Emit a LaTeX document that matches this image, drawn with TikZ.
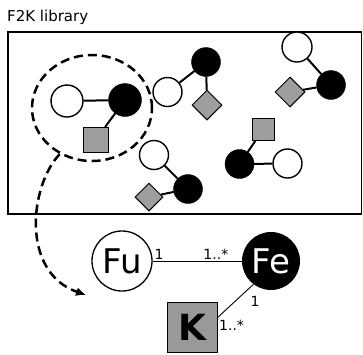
\documentclass[tikz,border=0pt]{standalone}
\usepackage{fontspec}
\setmainfont{DejaVu Sans}
\usetikzlibrary{shapes.geometric,arrows.meta}

\begin{document}
\begin{tikzpicture}[x=1pt,y=-1pt,
    wc/.style={circle,draw,line width=1.4pt,fill=white,minimum size=29pt,inner sep=0pt},
    bc/.style={circle,draw,fill=black,minimum size=29pt,inner sep=0pt},
    tile/.style={rectangle,draw,line width=1pt,fill=black!38,minimum size=22pt,inner sep=0pt},
    gem/.style={diamond,draw,line width=1pt,fill=black!38,minimum size=30pt,inner sep=0pt},
    bond/.style={line width=2pt},
    ring/.style={line width=2.5pt,dash pattern=on 9pt off 5pt},
    link/.style={line width=0.9pt},
    mult/.style={font=\fontsize{14}{16}\selectfont,inner sep=1.5pt}]
        \useasboundingbox (0,0) rectangle (363,354);
        \node[anchor=base west,inner sep=0pt,font=\fontsize{15}{17}\selectfont] (title) at (7,21) {F2K library};
        \draw[line width=1.2pt] (8,32) rectangle (361.8,214);
        % library contents
        \node[wc,minimum size=32pt] (W1) at (67,101) {};
        \node[bc,minimum size=33pt] (B1) at (125,100) {};
        \node[tile,minimum size=25pt] (S1) at (95.5,140) {};
        \node[wc] (W2) at (167.5,92) {};
        \node[bc] (B2) at (206,62) {};
        \node[gem] (D2) at (207,105) {};
        \node[wc,minimum size=30pt] (W3) at (297,47) {};
        \node[bc] (B3) at (331,85) {};
        \node[gem] (D3) at (290,92) {};
        \node[tile] (S4) at (263.5,129) {};
        \node[bc] (B4) at (239.5,164) {};
        \node[wc] (W4) at (287.5,163.5) {};
        \node[wc] (W5) at (154,155) {};
        \node[bc] (B5) at (188,189) {};
        \node[gem,minimum size=28pt] (D5) at (149,197) {};
        \draw[bond] (W1) to (B1);
        \draw[bond] (B1) to (S1);
        \draw[bond] (W2) to (B2);
        \draw[bond] (B2) to (D2);
        \draw[bond] (W3) to (B3);
        \draw[bond] (B3) to (D3);
        \draw[bond] (S4) to (B4);
        \draw[bond] (B4) to (W4);
        \draw[bond] (W5) to (B5);
        \draw[bond] (D5) to (B5);
        % selection
        \node[ellipse,draw,ring,minimum width=120pt,minimum height=106pt] (E) at (92,108) {};
        \coordinate (tip) at (86,295);
        \draw[ring,-{Latex[length=10pt,width=9pt]}] (E.235) .. controls (30,185) and (20,272) .. (tip);
        % model
        \node[circle,draw,line width=1.3pt,minimum size=60pt,inner sep=0pt,font=\fontsize{34}{36}\selectfont] (Fu) at (122,261) {Fu};
        \node[circle,fill=black,text=white,minimum size=58pt,inner sep=0pt,font=\fontsize{34}{36}\selectfont] (Fe) at (271,261) {Fe};
        \node[rectangle,draw,fill=black!40,minimum size=50pt,inner sep=0pt,font=\bfseries\fontsize{36}{38}\selectfont] (K) at (192,327) {K};
        \draw[link] (Fu) to node[mult,pos=0,above right] {1} node[mult,pos=0.87,above left] {1..*} (Fe);
        \draw[link] (Fe.233) to node[mult,pos=0.3,below right,xshift=6pt] {1} node[mult,pos=1,below right] {1..*} (K.20);
      \end{tikzpicture}
\end{document}
